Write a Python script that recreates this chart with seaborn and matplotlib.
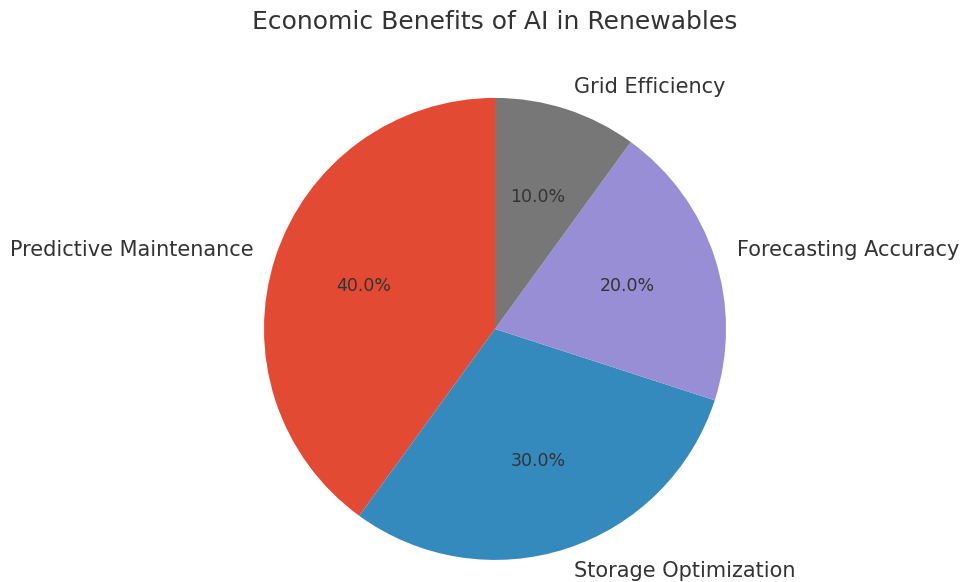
import matplotlib
matplotlib.use("Agg")
import matplotlib.pyplot as plt
import seaborn as sns

categories = ["Predictive Maintenance", "Storage Optimization", "Forecasting Accuracy", "Grid Efficiency"]
values = [40, 30, 20, 10]
colors = ["#E24A33", "#348ABD", "#988ED5", "#777777"]
title = "Economic Benefits of AI in Renewables"

sns.set_theme(style="white")
plt.rcParams['font.family'] = ['DejaVu Sans']
plt.rcParams['text.color'] = '#333333'

fig = plt.figure(figsize=(9.61, 5.82), dpi=100)
ax = fig.add_axes([0.2146, -0.0613, 0.601, 0.9923])
wedges, texts, autotexts = ax.pie(values, labels=categories, colors=colors, autopct="%1.1f%%",
                                  startangle=90, counterclock=True,
                                  wedgeprops={"linewidth": 0, "edgecolor": "none"},
                                  textprops={"fontsize": 15, "color": "#333333"})
for t in autotexts:
    t.set_fontsize(12.5)
    t.set_color("#333333")
ax.set_aspect("equal")
fig.text(0.515, 1 - 22 / 582, title, ha="center", va="center", fontsize=18, color="#333333")
fig.savefig("out.png", dpi=100, facecolor="white")
